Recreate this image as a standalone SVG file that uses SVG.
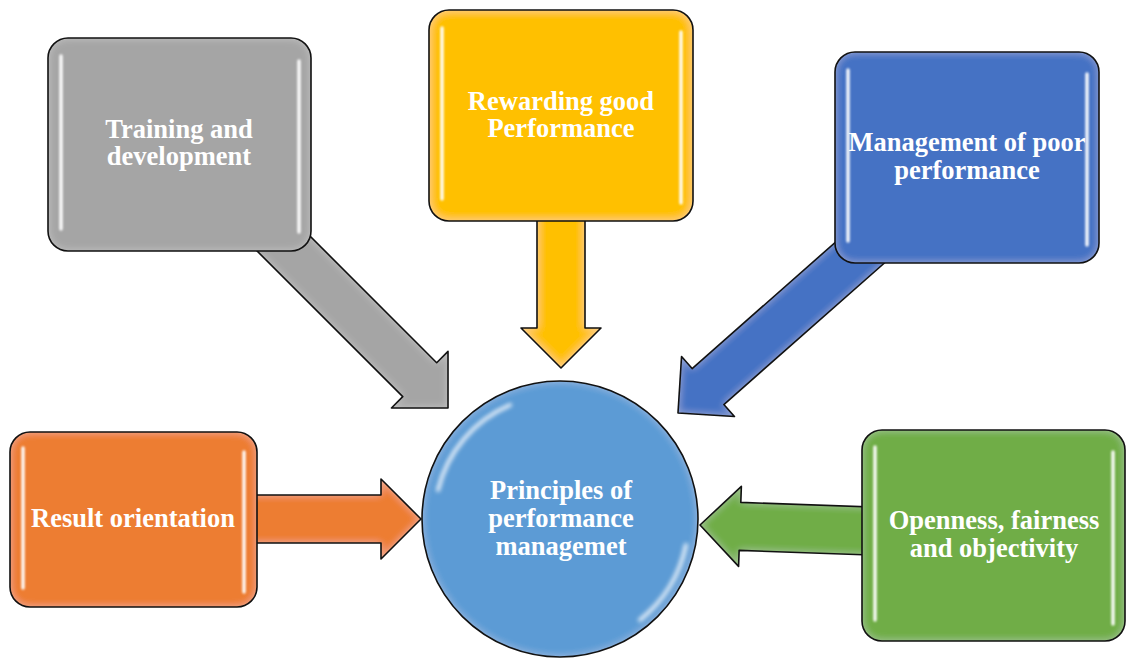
<svg xmlns="http://www.w3.org/2000/svg" width="1126" height="659" viewBox="0 0 1126 659">
  <style>
    .lbl { font-family: "Liberation Serif", "Times New Roman", serif; font-weight: bold; font-size: 26.5px; fill: #ffffff; text-anchor: middle; }
    .edge { fill: none; stroke: #111111; stroke-width: 1.6; stroke-linejoin: round; }
    .shine { stroke: #ffffff; stroke-width: 3.5; stroke-linecap: round; fill: none; filter: url(#soft); opacity: 0.95; }
    .gloss { filter: url(#bevel); }
  </style>
  <defs>
    <!-- soft light rim just inside each shape -->
    <filter id="bevel" x="-5%" y="-5%" width="110%" height="110%">
      <feGaussianBlur in="SourceAlpha" stdDeviation="4" result="b"/>
      <feComponentTransfer in="b" result="inv">
        <feFuncA type="table" tableValues="1 0"/>
      </feComponentTransfer>
      <feFlood flood-color="#ffffff" flood-opacity="0.3"/>
      <feComposite in2="inv" operator="in" result="glow"/>
      <feComposite in="glow" in2="SourceAlpha" operator="in" result="inner"/>
      <feMerge>
        <feMergeNode in="SourceGraphic"/>
        <feMergeNode in="inner"/>
      </feMerge>
    </filter>
    <!-- user-space region so thin vertical strokes still get blurred -->
    <filter id="soft" filterUnits="userSpaceOnUse" x="0" y="0" width="1126" height="659">
      <feGaussianBlur stdDeviation="1"/>
    </filter>
    <filter id="softer" filterUnits="userSpaceOnUse" x="0" y="0" width="1126" height="659">
      <feGaussianBlur stdDeviation="2"/>
    </filter>
  </defs>

  <rect width="1126" height="659" fill="#ffffff"/>

  <g id="connectors">
    <!-- Training and development -> centre -->
    <g transform="translate(448,408) rotate(45)">
      <polygon class="gloss" fill="#A5A5A5" points="-262,-24 -40,-24 -40,-40 0,0 -40,40 -40,24 -262,24"/>
      <polygon class="edge" points="-262,-24 -40,-24 -40,-40 0,0 -40,40 -40,24 -262,24"/>
    </g>
    <!-- Rewarding good Performance -> centre -->
    <g transform="translate(561,368) rotate(90)">
      <polygon class="gloss" fill="#FFC000" points="-170,-24 -40,-24 -40,-40 0,0 -40,40 -40,24 -170,24"/>
      <polygon class="edge" points="-170,-24 -40,-24 -40,-40 0,0 -40,40 -40,24 -170,24"/>
    </g>
    <!-- Management of poor performance -> centre -->
    <g transform="translate(678,413) rotate(138.6)">
      <polygon class="gloss" fill="#4472C4" points="-262,-24 -40,-24 -40,-40 0,0 -40,40 -40,24 -262,24"/>
      <polygon class="edge" points="-262,-24 -40,-24 -40,-40 0,0 -40,40 -40,24 -262,24"/>
    </g>
    <!-- Result orientation -> centre -->
    <g transform="translate(421,519)">
      <polygon class="gloss" fill="#ED7D31" points="-222,-24 -40,-24 -40,-40 0,0 -40,40 -40,24 -222,24"/>
      <polygon class="edge" points="-222,-24 -40,-24 -40,-40 0,0 -40,40 -40,24 -222,24"/>
    </g>
    <!-- Openness, fairness and objectivity -> centre -->
    <g transform="translate(700,525) rotate(182)">
      <polygon class="gloss" fill="#70AD47" points="-250,-24 -40,-24 -40,-40 0,0 -40,40 -40,24 -250,24"/>
      <polygon class="edge" points="-250,-24 -40,-24 -40,-40 0,0 -40,40 -40,24 -250,24"/>
    </g>
  </g>

  <g id="node-training">
    <rect class="gloss" x="48" y="38" width="263" height="213" rx="20" fill="#A5A5A5"/>
    <rect class="edge" x="48" y="38" width="263" height="213" rx="20"/>
    <line class="shine" x1="61" y1="56" x2="61" y2="229"/>
    <line class="shine" x1="299" y1="61" x2="299" y2="232"/>
    <text class="lbl" x="179" y="138">Training and</text>
    <text class="lbl" x="179" y="165">development</text>
  </g>

  <g id="node-rewarding">
    <rect class="gloss" x="429" y="10" width="264" height="211" rx="20" fill="#FFC000"/>
    <rect class="edge" x="429" y="10" width="264" height="211" rx="20"/>
    <line class="shine" x1="442" y1="28" x2="442" y2="199"/>
    <line class="shine" x1="681" y1="32" x2="681" y2="203"/>
    <text class="lbl" x="561" y="110">Rewarding good</text>
    <text class="lbl" x="561" y="137">Performance</text>
  </g>

  <g id="node-management">
    <rect class="gloss" x="835" y="52" width="264" height="211" rx="20" fill="#4472C4"/>
    <rect class="edge" x="835" y="52" width="264" height="211" rx="20"/>
    <line class="shine" x1="848" y1="70" x2="848" y2="241"/>
    <line class="shine" x1="1087" y1="74" x2="1087" y2="245"/>
    <text class="lbl" x="967" y="151">Management of poor</text>
    <text class="lbl" x="967" y="179">performance</text>
  </g>

  <g id="node-result">
    <rect class="gloss" x="10" y="432" width="247" height="175" rx="20" fill="#ED7D31"/>
    <rect class="edge" x="10" y="432" width="247" height="175" rx="20"/>
    <line class="shine" x1="23" y1="448" x2="23" y2="588"/>
    <line class="shine" x1="244" y1="452" x2="244" y2="592"/>
    <text class="lbl" x="133" y="527">Result orientation</text>
  </g>

  <g id="node-openness">
    <rect class="gloss" x="862" y="430" width="263" height="211" rx="20" fill="#70AD47"/>
    <rect class="edge" x="862" y="430" width="263" height="211" rx="20"/>
    <line class="shine" x1="875" y1="447" x2="875" y2="620"/>
    <line class="shine" x1="1113" y1="452" x2="1113" y2="624"/>
    <text class="lbl" x="994" y="529">Openness, fairness</text>
    <text class="lbl" x="994" y="557">and objectivity</text>
  </g>

  <g id="node-principles">
    <circle class="gloss" cx="560" cy="519" r="138" fill="#5B9BD5"/>
    <circle class="edge" cx="560" cy="519" r="138"/>
    <!-- light reflections on the disc rim -->
    <path d="M 438 490 A 124 124 0 0 1 510 405" fill="none" stroke="#ffffff" stroke-width="4" stroke-linecap="round" opacity="0.85" filter="url(#softer)"/>
    <path d="M 686 545 A 128 128 0 0 1 640 620" fill="none" stroke="#ffffff" stroke-width="4" stroke-linecap="round" opacity="0.85" filter="url(#softer)"/>
    <text class="lbl" x="561" y="499">Principles of</text>
    <text class="lbl" x="561" y="527">performance</text>
    <text class="lbl" x="561" y="555">managemet</text>
  </g>
</svg>
